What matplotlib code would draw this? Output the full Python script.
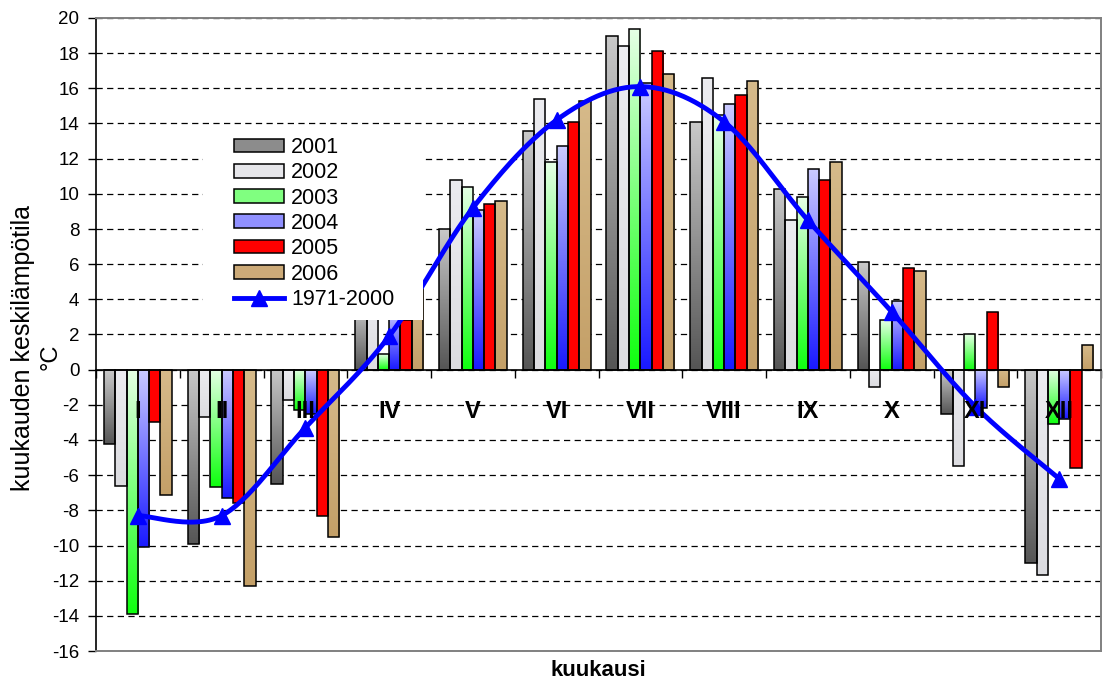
import numpy as np
import matplotlib
matplotlib.use('Agg')
from matplotlib import pyplot as plt
from matplotlib.patches import Patch, Rectangle
from matplotlib.lines import Line2D
from matplotlib.colors import LinearSegmentedColormap

plt.rcParams['font.family'] = ['Liberation Sans', 'DejaVu Sans']
plt.rcParams['axes.unicode_minus'] = False

months = ['I', 'II', 'III', 'IV', 'V', 'VI', 'VII', 'VIII', 'IX', 'X', 'XI', 'XII']
years = ['2001', '2002', '2003', '2004', '2005', '2006']
t2001 = [-4.2, -9.9, -6.5, 3.6, 8.0, 13.6, 19.0, 14.1, 10.3, 6.1, -2.5, -11.0]
t2002 = [-6.6, -2.7, -1.7, 4.2, 10.8, 15.4, 18.4, 16.6, 8.5, -1.0, -5.5, -11.7]
t2003 = [-13.9, -6.7, -2.3, 0.9, 10.4, 11.8, 19.4, 14.5, 9.8, 2.8, 2.0, -3.1]
t2004 = [-10.1, -7.3, -2.5, 3.4, 9.1, 12.7, 16.3, 15.1, 11.4, 3.9, -2.2, -2.8]
t2005 = [-3.0, -7.6, -8.3, 2.8, 9.4, 14.1, 18.1, 15.6, 10.8, 5.8, 3.3, -5.6]
t2006 = [-7.1, -12.3, -9.5, 4.6, 9.6, 15.3, 16.8, 16.4, 11.8, 5.6, -1.0, 1.4]
normal = [-8.3, -8.3, -3.3, 1.9, 9.2, 14.2, 16.1, 14.1, 8.5, 3.3, -2.1, -6.2]

series = [t2001, t2002, t2003, t2004, t2005, t2006]
# (bottom colour, top colour) for each year's vertical gradient
grads = [('#565656', '#c8c8c8'),
         ('#dcdce0', '#ececf0'),
         ('#10ff10', '#e4ffe4'),
         ('#1a1aff', '#cacaff'),
         ('#ff0000', '#ff0000'),
         ('#c4a068', '#d6ba8a')]
legend_cols = ['#8c8c8c', '#e6e6ea', '#80ff80', '#9090ff', '#ff0000', '#ccaa78']


def smooth(xs, ys, n=30):
    # excel style bezier smoothing through the points
    pts = np.column_stack([xs, ys]).astype(float)
    ext = np.vstack([pts[0], pts, pts[-1]])
    out = []
    t = np.linspace(0, 1, n)[:, None]
    for i in range(len(pts) - 1):
        p0, p1, p2, p3 = ext[i], ext[i + 1], ext[i + 2], ext[i + 3]
        c1 = p1 + (p2 - p0) / 6
        c2 = p2 - (p3 - p1) / 6
        seg = (1 - t) ** 3 * p1 + 3 * (1 - t) ** 2 * t * c1 + 3 * (1 - t) * t ** 2 * c2 + t ** 3 * p2
        out.append(seg if i == 0 else seg[1:])
    return np.vstack(out)


fig = plt.figure(figsize=(11.07, 6.84), dpi=100)
ax = fig.add_axes([96 / 1107, 1 - 651 / 684, (1101 - 96) / 1107, (651 - 18) / 684])

x = np.arange(len(months))
bw = 0.135
for i, vals in enumerate(series):
    bars = ax.bar(x + (i - 2.5) * bw, vals, bw, facecolor='none', edgecolor='black',
                  linewidth=1.1, zorder=3)
    cm = LinearSegmentedColormap.from_list('g%d' % i, grads[i])
    for b in bars:
        x0, y0, w, h = b.get_x(), b.get_y(), b.get_width(), b.get_height()
        lo, hi = min(y0, y0 + h), max(y0, y0 + h)
        im = ax.imshow(np.linspace(1, 0, 64).reshape(-1, 1), cmap=cm, vmin=0, vmax=1,
                       extent=(x0, x0 + w, lo, hi), origin='upper', aspect='auto',
                       interpolation='bilinear', zorder=2)
        im.set_clip_path(b)

curve = smooth(x, normal)
ax.plot(curve[:, 0], curve[:, 1], color='#0000ff', lw=3.5, zorder=4, solid_capstyle='round')
ax.plot(x, normal, linestyle='none', marker='^', ms=12, color='#0000ff', zorder=4)

for xi, m in zip(x, months):
    ax.text(xi, -2.4, m, ha='center', va='center', fontsize=17, fontweight='bold', zorder=5)

ax.set_xlim(-0.5, 11.5)
ax.set_ylim(-16, 20)
ax.set_yticks(np.arange(-16, 21, 2))
ax.set_xticks(np.arange(-0.5, 12, 1))
ax.set_xticklabels([])
ax.tick_params(axis='y', direction='out', length=6, width=1, labelsize=13.5, pad=6)
ax.tick_params(axis='x', direction='out', length=6, width=1)
ax.yaxis.grid(True, linestyle=(0, (5, 3.5)), color='black', lw=0.9)
ax.set_axisbelow(True)

ax.spines['bottom'].set_position(('data', 0))
ax.spines['bottom'].set_linewidth(1.2)
ax.spines['left'].set_linewidth(1.2)
for s in ['top', 'right']:
    ax.spines[s].set_color('#808080')
    ax.spines[s].set_linewidth(1.4)
ax.plot([0, 1], [0, 0], transform=ax.transAxes, color='#808080', lw=1.4, clip_on=False, zorder=6)

# white legend background covering part of the plot
ax.add_patch(Rectangle((203 / 1107, 1 - 320 / 684), 220 / 1107, 192 / 684,
                       transform=fig.transFigure, facecolor='white', edgecolor='none',
                       clip_on=False, zorder=7))
handles = [Patch(facecolor=c, edgecolor='black', linewidth=1.1) for c in legend_cols]
handles.append(Line2D([], [], color='#0000ff', lw=3.5, marker='^', ms=12))
leg = ax.legend(handles, years + ['1971-2000'], loc='upper left',
                bbox_to_anchor=(234 / 1107, 1 - 137 / 684), bbox_transform=fig.transFigure,
                frameon=False, fontsize=15.5, handlelength=2.3, handleheight=0.6,
                handletextpad=0.35, labelspacing=0.2, borderpad=0, borderaxespad=0)
leg.set_zorder(8)

fig.text(598.5 / 1107, 1 - 671 / 684, 'kuukausi', ha='center', va='center',
         fontsize=16, fontweight='bold')
fig.text(23 / 1107, 1 - 348 / 684, 'kuukauden keskilämpötila', rotation=90,
         ha='center', va='center', fontsize=18)
fig.text(51 / 1107, 1 - 357 / 684, '°C', rotation=90, ha='center', va='center', fontsize=17)

fig.savefig('out.png', dpi=100)
